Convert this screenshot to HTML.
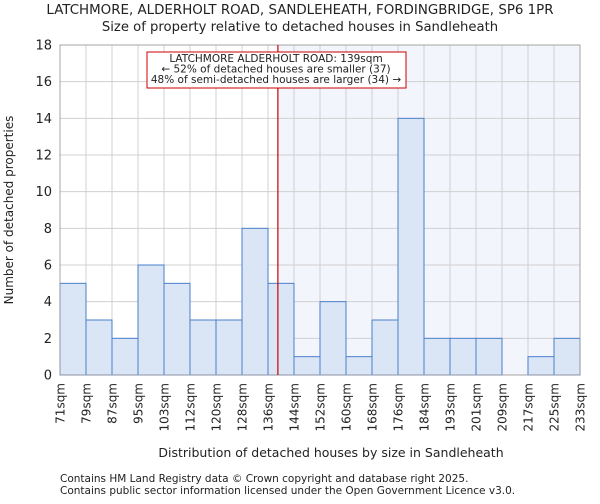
<!DOCTYPE html>
<html><head><meta charset="utf-8"><style>
body{margin:0;background:#fff;font-family:"DejaVu Sans","Liberation Sans",sans-serif}
svg text{font-family:"DejaVu Sans","Liberation Sans",sans-serif;fill:#222}
</style></head><body>
<svg id="c" width="600" height="500" xmlns="http://www.w3.org/2000/svg">
<text x="300" y="14" text-anchor="middle" font-size="13.4">LATCHMORE, ALDERHOLT ROAD, SANDLEHEATH, FORDINGBRIDGE, SP6 1PR</text>
<text x="300" y="31" text-anchor="middle" font-size="13.2">Size of property relative to detached houses in Sandleheath</text>
<g id="plot"></g>
<text x="331" y="457" text-anchor="middle" font-size="12.5">Distribution of detached houses by size in Sandleheath</text>
<text transform="translate(13,210) rotate(-90)" text-anchor="middle" font-size="12">Number of detached properties</text>
<text x="60" y="482" font-size="10.5">Contains HM Land Registry data © Crown copyright and database right 2025.</text>
<text x="60" y="494" font-size="10.5">Contains public sector information licensed under the Open Government Licence v3.0.</text>
</svg>
<script>
const categories=["71sqm","79sqm","87sqm","95sqm","103sqm","112sqm","120sqm","128sqm","136sqm","144sqm","152sqm","160sqm","168sqm","176sqm","184sqm","193sqm","201sqm","209sqm","217sqm","225sqm","233sqm"];
const counts=[5,3,2,6,5,3,3,8,5,1,4,1,3,14,2,2,2,0,1,2];
const yTicks=[0,2,4,6,8,10,12,14,16,18];
const markerBin=8.38;
const NS="http://www.w3.org/2000/svg";
const g=document.getElementById('plot');
const L=60,R=580,T=45,B=375,yMax=18;
const bw=(R-L)/counts.length;
const xs=i=>L+i*bw, ys=v=>B-(v/yMax)*(B-T);
function mk(t,a){const e=document.createElementNS(NS,t);for(const k in a)e.setAttribute(k,a[k]);g.appendChild(e);return e;}
const mx=xs(markerBin);
let e=mk('rect',{x:mx,y:T,width:R-mx,height:B-T,fill:'#f3f5fc'});


yTicks.forEach(v=>{let l=mk('line',{x1:L,x2:R,y1:ys(v),y2:ys(v),stroke:'#d0d0d0','stroke-width':1});


let t=mk('text',{x:L-8,y:ys(v)+4.5,'text-anchor':'end','font-size':13});t.textContent=v;

});
categories.forEach((c,i)=>{let l=mk('line',{x1:xs(i),x2:xs(i),y1:T,y2:B,stroke:'#d0d0d0','stroke-width':1});


let t=mk('text',{transform:`translate(${xs(i)+4.5},${B+8}) rotate(-90)`,'text-anchor':'end','font-size':12});t.textContent=c;

});
counts.forEach((v,i)=>{if(v<=0)return;let r=mk('rect',{x:xs(i),y:ys(v),width:bw,height:B-ys(v),fill:'#dae5f5',stroke:'#4a7fcc','stroke-width':1});

});
let ax=mk('rect',{x:L,y:T,width:R-L,height:B-T,fill:'none',stroke:'#999','stroke-width':0.8});


let ml=mk('line',{x1:mx,x2:mx,y1:T,y2:B,stroke:'#cc0000','stroke-width':1.2});


let bx=mk('rect',{x:147,y:52,width:259,height:36,fill:'#fff',stroke:'#cc0000','stroke-width':1});


["LATCHMORE ALDERHOLT ROAD: 139sqm","← 52% of detached houses are smaller (37)","48% of semi-detached houses are larger (34) →"].forEach((s,k)=>{let t=mk('text',{x:276,y:62+k*10.5,'text-anchor':'middle','font-size':10.5});t.textContent=s;

});
</script>
</body></html>
